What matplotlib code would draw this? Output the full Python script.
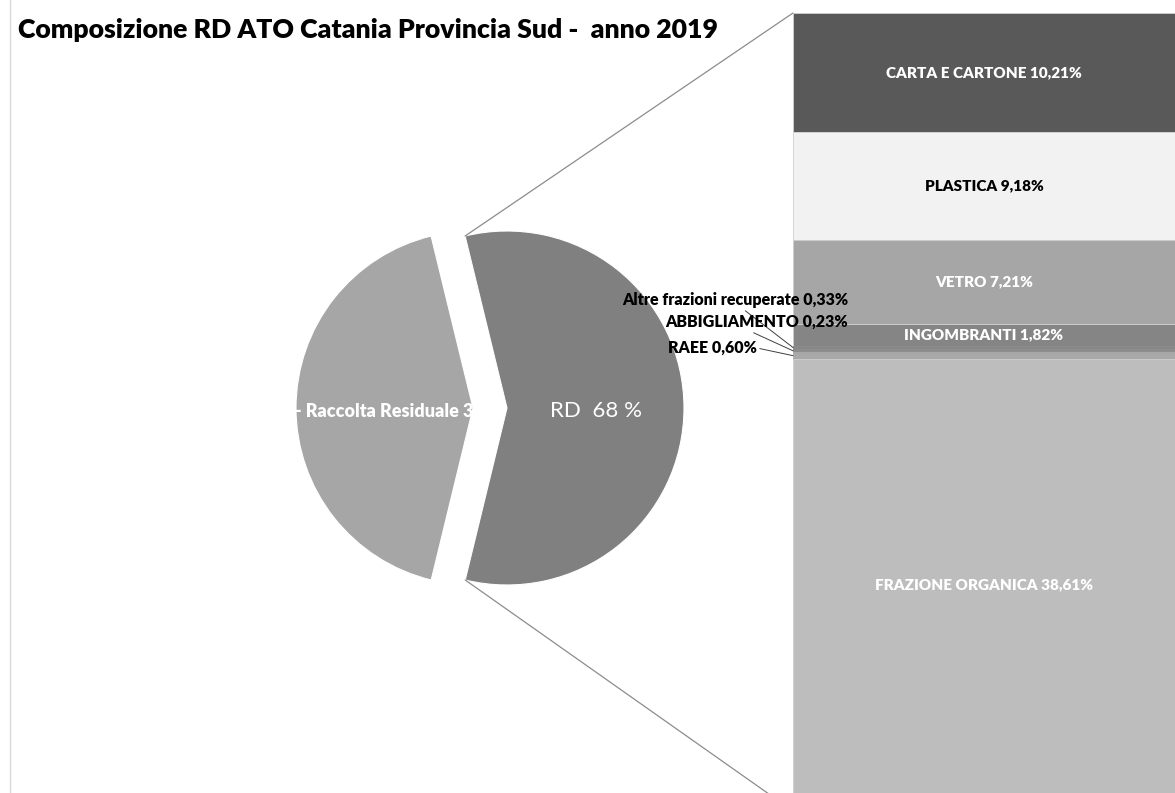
import numpy as np
import matplotlib
matplotlib.use('Agg')
import matplotlib.pyplot as plt
from matplotlib.patches import ConnectionPatch
from matplotlib.lines import Line2D

plt.rcParams['font.family'] = ['Lato', 'DejaVu Sans']

# pie (slice sizes as drawn in the picture)
pie_labels = ['- Raccolta Residuale 3', 'RD  68 %']
pie_vals = [42.4, 57.6]
pie_cols = ['#a6a6a6', '#808080']

# bar of the RD slice, top -> bottom
bar_names = ['CARTA E CARTONE', 'PLASTICA', 'VETRO', 'INGOMBRANTI',
             'Altre frazioni recuperate', 'ABBIGLIAMENTO', 'RAEE', 'FRAZIONE ORGANICA']
bar_vals = [10.21, 9.18, 7.21, 1.82, 0.33, 0.23, 0.60, 38.61]
bar_cols = ['#595959', '#f2f2f2', '#a6a6a6', '#858585', '#878787', '#8c8c8c', '#a8a8a8', '#bdbdbd']
bar_txt = ['white', 'black', 'white', 'white', 'black', 'black', 'black', 'white']
outside = [False, False, False, False, True, True, True, False]

title = 'Composizione RD ATO Catania Provincia Sud -  anno 2019'

def pct(v):
    return ('%.2f' % v).replace('.', ',') + '%'

W, H = 1175, 793
fig = plt.figure(figsize=(W/100, H/100), dpi=100)
fig.patch.set_facecolor('white')

R = 177
ax = fig.add_axes([0, 0, 1, 1])
wedges, _ = ax.pie(pie_vals, colors=pie_cols, startangle=103.7, explode=[17, 17],
                   radius=R, center=(490, 385),
                   wedgeprops=dict(edgecolor='white', linewidth=0.8))
ax.set_xlim(0, W)
ax.set_ylim(0, H)
ax.axis('off')

# labels inside the pie slices
for w, lab, fs, fw in zip(wedges, pie_labels, [13, 16], ['heavy', 'normal']):
    mid = np.deg2rad((w.theta1 + w.theta2) / 2)
    cx, cy = w.center
    t = ax.text(cx + 0.5*w.r*np.cos(mid), cy + 0.5*w.r*np.sin(mid) - 3, lab,
                ha='center', va='center', color='white', fontsize=fs, fontweight=fw)
    t.set_clip_path(w)

# stacked bar
axb = fig.add_axes([793/W, 1 - 811/H, 1 - 793/W, 798/H])
tot = sum(bar_vals)
bottoms = np.cumsum(bar_vals) - np.array(bar_vals)
edges = [c if o else '#cfcfcf' for c, o in zip(bar_cols, outside)]
axb.bar(0, bar_vals, bottom=bottoms, width=1, color=bar_cols, edgecolor=edges, linewidth=0.6)
axb.set_xlim(-0.5, 0.5)
axb.set_ylim(tot, 0)
axb.axis('off')

# small label positions (figure pixels) and where the leader starts on the text
small_pos = {4: (848, 493, (0.53, 0)), 5: (848, 471, (0.45, 0)), 6: (757, 445, (1, 0.5))}
for i in range(len(bar_vals)):
    mid = bottoms[i] + bar_vals[i]/2
    lab = bar_names[i] + ' ' + pct(bar_vals[i])
    if not outside[i]:
        axb.text(0, mid, lab, ha='center', va='center', color=bar_txt[i],
                 fontsize=11, fontweight='heavy')
    else:
        x, y, rp = small_pos[i]
        axb.annotate(lab, xy=(-0.5, mid), xycoords='data', xytext=(x, y),
                     textcoords='figure pixels', ha='right', va='center',
                     fontsize=11.5, fontweight='heavy', color='black',
                     arrowprops=dict(arrowstyle='-', color='#404040', lw=0.7,
                                     relpos=rp, shrinkA=0, shrinkB=0),
                     annotation_clip=False)

# lines from the RD slice to the bar
w = wedges[1]
cx, cy = w.center
for th, yb in [(w.theta2, 1), (w.theta1, 0)]:
    p = (cx + w.r*np.cos(np.deg2rad(th)), cy + w.r*np.sin(np.deg2rad(th)))
    con = ConnectionPatch(xyA=p, coordsA=ax.transData, xyB=(0, yb), coordsB=axb.transAxes,
                          color='#8c8c8c', lw=0.9)
    fig.add_artist(con)

fig.add_artist(Line2D([10/W, 10/W], [0, 1], color='#d9d9d9', lw=1))
fig.text(18/W, 1 - 30/H, title, ha='left', va='center', fontsize=19.2, fontweight='heavy')

fig.savefig('out.png', dpi=100)
